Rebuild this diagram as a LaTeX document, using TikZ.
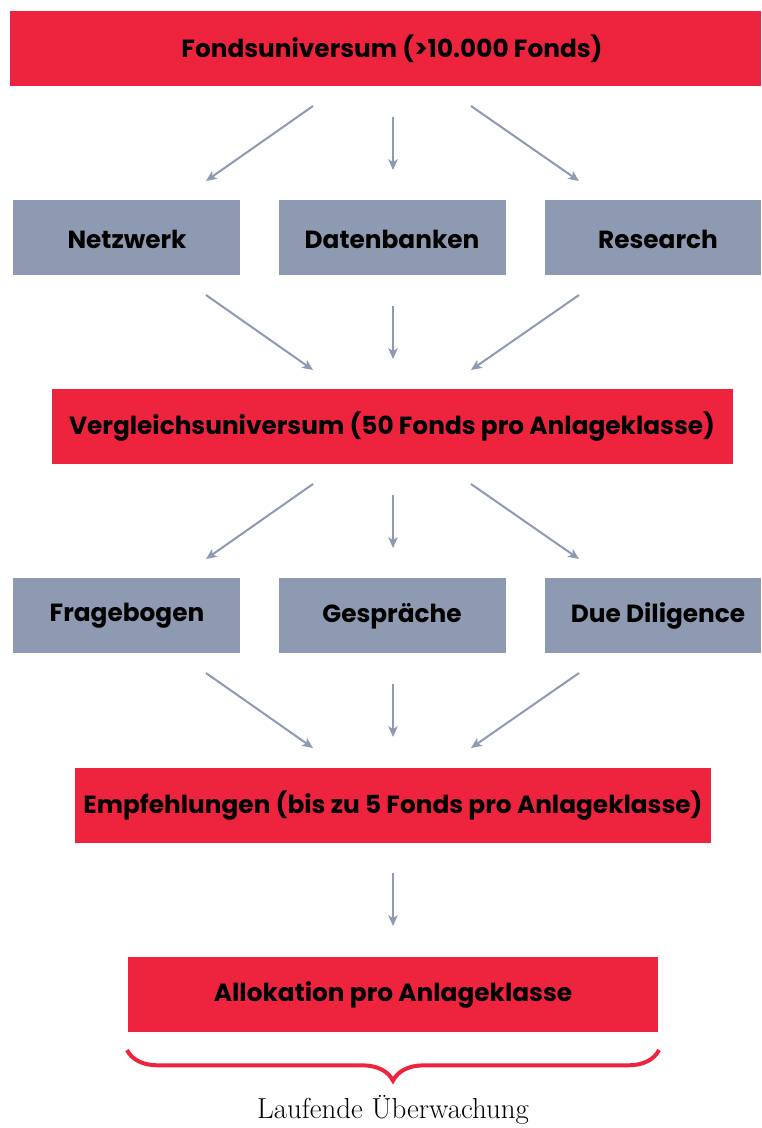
\documentclass[tikz,border=0pt]{standalone}
\usepackage{fontspec}
\newfontfamily\boxfont{Poppins}
\usetikzlibrary{arrows.meta,decorations.pathreplacing}
\definecolor{fredd}{HTML}{EE243E}
\definecolor{fgray}{HTML}{8E9AB1}
\begin{document}
\begin{tikzpicture}[x=0.75pt,y=-0.75pt,
  redbox/.style={fill=fredd,draw=none,inner sep=0pt,font=\boxfont\bfseries\fontsize{18.6}{22}\selectfont},
  graybox/.style={fill=fgray,draw=none,inner sep=0pt,font=\boxfont\bfseries\fontsize{18.6}{22}\selectfont},
  arr/.style={draw=fgray,line width=1.5pt,-{Stealth[length=8pt,width=7pt,inset=2pt]}}]
\useasboundingbox (0,0) rectangle (761,1128);
% boxes
\path[redbox] (10,11) rectangle (761,86);
\node (top) at (392,49) [redbox,fill=none] {Fondsuniversum (>10.000 Fonds)};
\path[graybox] (13,200) rectangle (240,275);
\node (netz) at (127,239) [graybox,fill=none] {Netzwerk};
\path[graybox] (279,200) rectangle (506,275);
\node (daten) at (392,239) [graybox,fill=none] {Datenbanken};
\path[graybox] (545,200) rectangle (761,275);
\node (res) at (658,239) [graybox,fill=none] {Research};
\path[redbox] (52,389) rectangle (733,464);
\node (verg) at (392,427) [redbox,fill=none] {Vergleichsuniversum (50 Fonds pro Anlageklasse)};
\path[graybox] (13,578) rectangle (240,653);
\node (frage) at (127,616) [graybox,fill=none] {Fragebogen};
\path[graybox] (279,578) rectangle (506,653);
\node (gesp) at (392,616) [graybox,fill=none] {Gespräche};
\path[graybox] (545,578) rectangle (761,653);
\node (due) at (658,616) [graybox,fill=none] {Due Diligence};
\path[redbox] (75,768) rectangle (711,843);
\node (empf) at (393,806) [redbox,fill=none] {Empfehlungen (bis zu 5 Fonds pro Anlageklasse)};
\path[redbox] (128,957) rectangle (658,1032);
\node (allo) at (393,995) [redbox,fill=none] {Allokation pro Anlageklasse};
% connector end points
\coordinate (a1s) at (313,106); \coordinate (a1e) at (206,181);
\coordinate (a2s) at (393,117); \coordinate (a2e) at (393,170);
\coordinate (a3s) at (471,106); \coordinate (a3e) at (579,181);
\coordinate (b1s) at (206,295); \coordinate (b1e) at (313,370);
\coordinate (b2s) at (393,306); \coordinate (b2e) at (393,359);
\coordinate (b3s) at (579,295); \coordinate (b3e) at (471,370);
\coordinate (c1s) at (313,484); \coordinate (c1e) at (206,559);
\coordinate (c2s) at (393,495); \coordinate (c2e) at (393,548);
\coordinate (c3s) at (471,484); \coordinate (c3e) at (579,559);
\coordinate (d1s) at (206,673); \coordinate (d1e) at (313,748);
\coordinate (d2s) at (393,684); \coordinate (d2e) at (393,737);
\coordinate (d3s) at (579,673); \coordinate (d3e) at (471,748);
\coordinate (e1s) at (393,873); \coordinate (e1e) at (393,926);
\foreach \p in {a1,a2,a3,b1,b2,b3,c1,c2,c3,d1,d2,d3,e1}
  \draw[arr] (\p s) -- (\p e);
% brace
\coordinate (brL) at (127,1050);
\coordinate (brR) at (659,1050);
\draw[draw=fredd,line width=3pt,decorate,decoration={brace,mirror,amplitude=23pt}] (brL) -- (brR);
\node (lauf) at (393,1110) {\fontsize{21.7}{26}\selectfont Laufende Überwachung};
\end{tikzpicture}
\end{document}
